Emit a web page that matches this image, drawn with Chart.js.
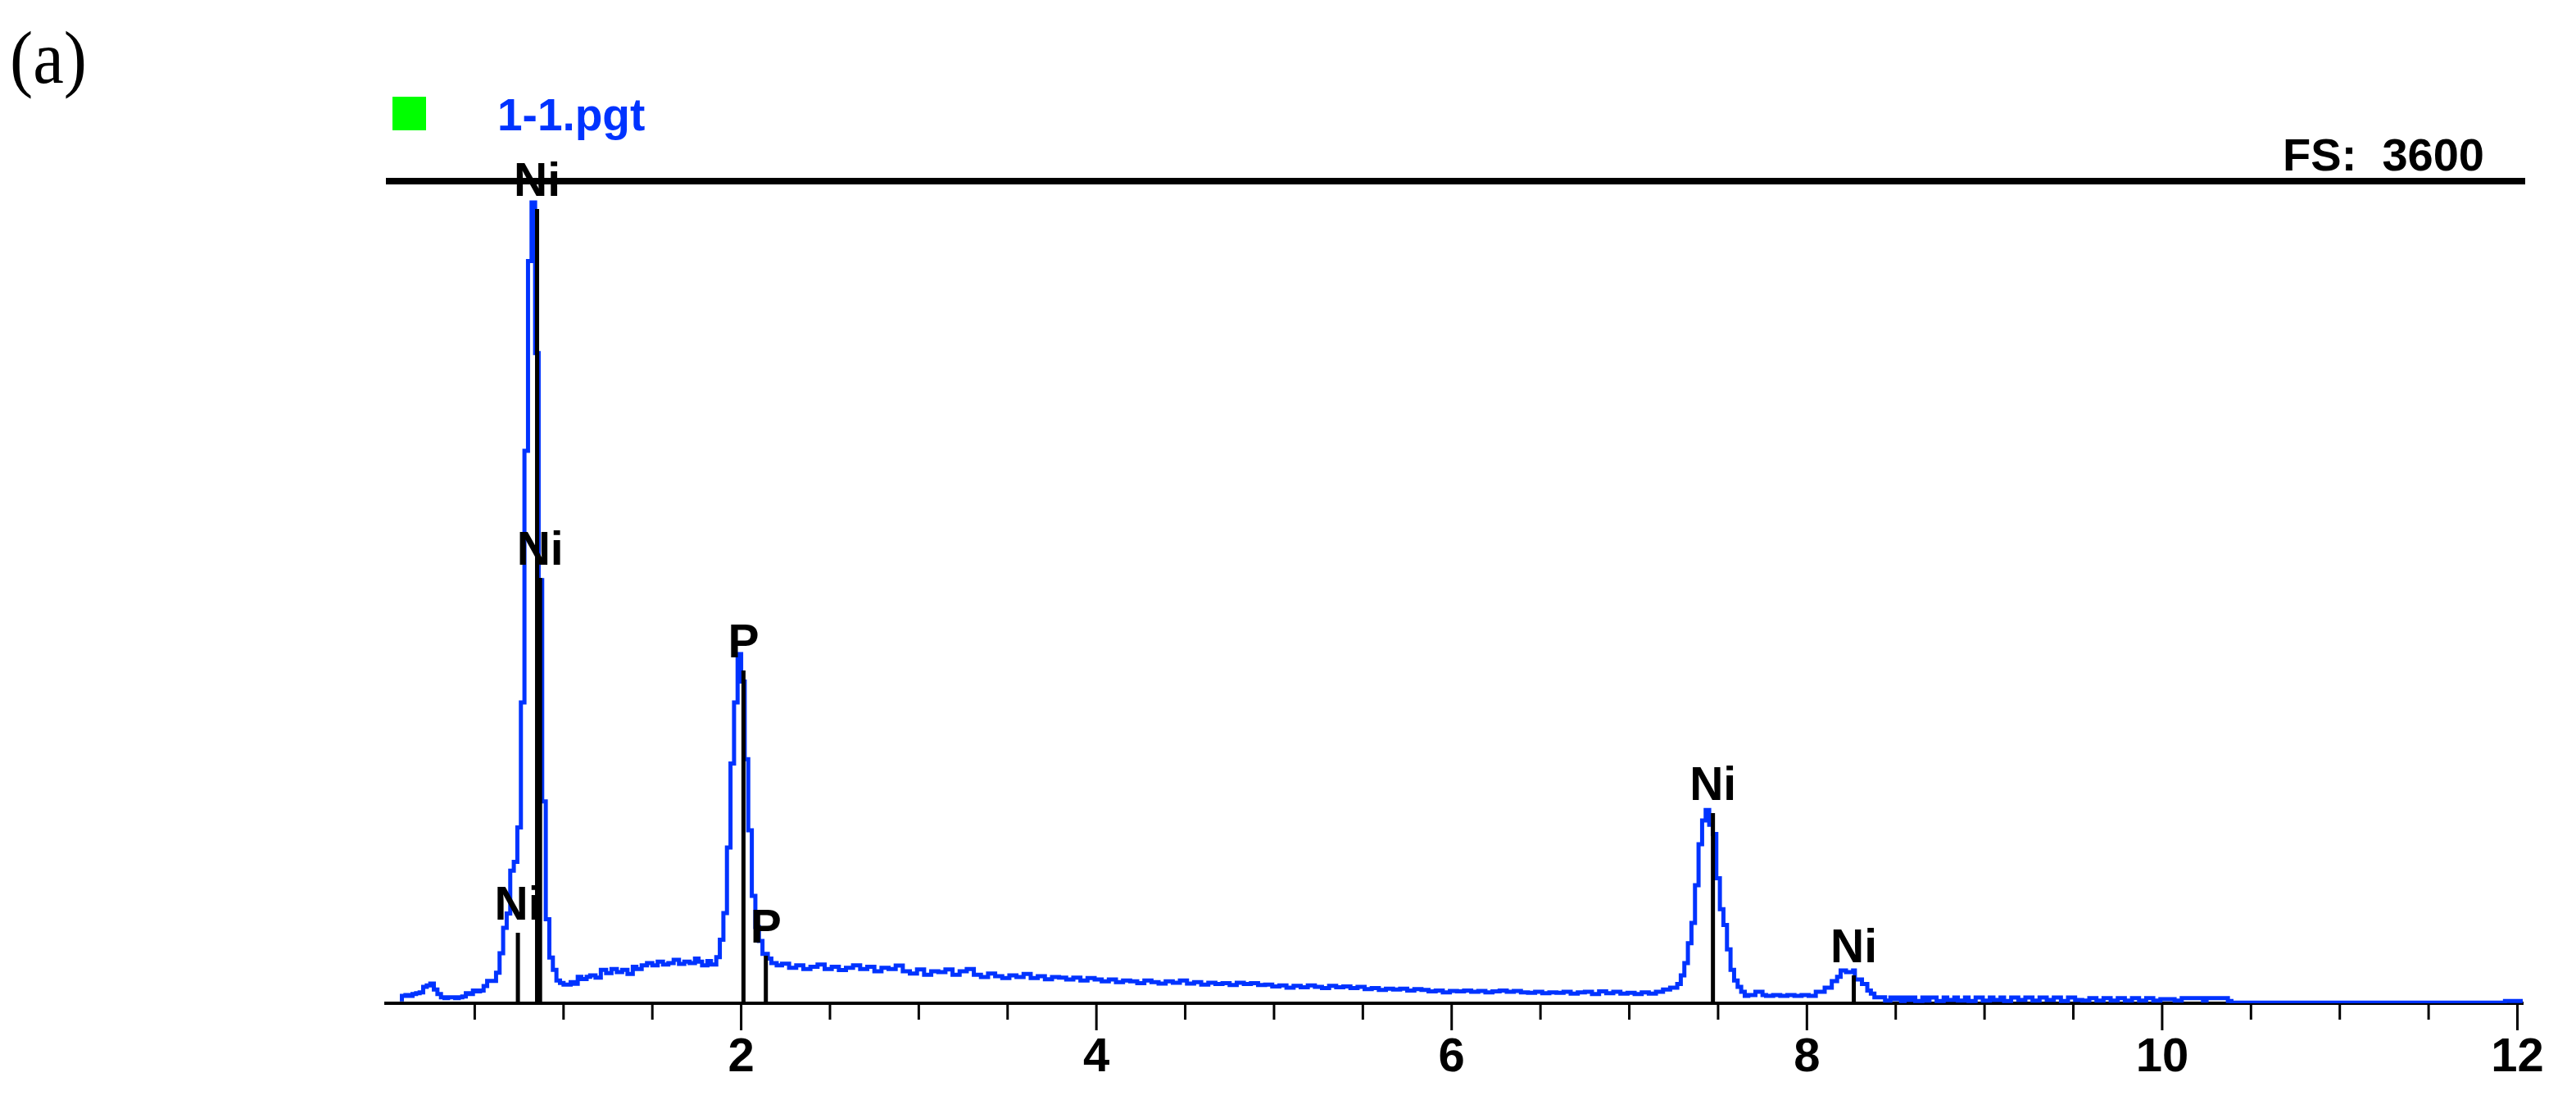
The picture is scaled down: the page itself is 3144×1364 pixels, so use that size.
<!DOCTYPE html>
<html>
<head>
<meta charset="utf-8">
<script src="https://cdn.jsdelivr.net/npm/chart.js@4/dist/chart.umd.min.js"></script>
<style>
  body { margin: 0; background: #fff; }
  #wrap { width: 3144px; height: 1364px; position: relative; }
</style>
</head>
<body>
<div id="wrap"><canvas id="spectrum"></canvas></div>
<script>
// EDS spectrum 1-1.pgt, channel start energy (keV) and counts
const energyKeV = [
  0.09, 0.11, 0.13, 0.15, 0.17, 0.19, 0.21, 0.23, 0.25, 0.27, 0.29, 0.31, 0.33, 0.35, 0.37, 0.39,
  0.41, 0.43, 0.45, 0.47, 0.49, 0.51, 0.53, 0.55, 0.57, 0.62, 0.64, 0.66, 0.68, 0.70, 0.72, 0.74,
  0.76, 0.78, 0.80, 0.82, 0.84, 0.86, 0.88, 0.90, 0.92, 0.94, 0.96, 0.98, 1.00, 1.04, 1.06, 1.08,
  1.10, 1.13, 1.15, 1.18, 1.21, 1.24, 1.27, 1.30, 1.33, 1.36, 1.39, 1.41, 1.44, 1.47, 1.50, 1.53,
  1.56, 1.59, 1.62, 1.65, 1.68, 1.71, 1.74, 1.76, 1.78, 1.81, 1.83, 1.86, 1.88, 1.90, 1.92, 1.94,
  1.96, 1.98, 2.00, 2.02, 2.04, 2.06, 2.08, 2.10, 2.12, 2.15, 2.17, 2.20, 2.23, 2.27, 2.31, 2.35,
  2.39, 2.43, 2.47, 2.51, 2.55, 2.59, 2.63, 2.67, 2.71, 2.75, 2.79, 2.83, 2.87, 2.91, 2.95, 2.99,
  3.03, 3.07, 3.11, 3.15, 3.19, 3.23, 3.27, 3.31, 3.35, 3.39, 3.43, 3.47, 3.51, 3.55, 3.59, 3.63,
  3.67, 3.71, 3.75, 3.79, 3.83, 3.87, 3.91, 3.95, 3.99, 4.03, 4.07, 4.11, 4.15, 4.19, 4.23, 4.27,
  4.31, 4.35, 4.39, 4.43, 4.47, 4.51, 4.55, 4.59, 4.63, 4.67, 4.71, 4.75, 4.79, 4.83, 4.87, 4.91,
  4.95, 4.99, 5.03, 5.07, 5.11, 5.15, 5.19, 5.23, 5.27, 5.31, 5.35, 5.39, 5.43, 5.47, 5.51, 5.55,
  5.59, 5.63, 5.67, 5.71, 5.75, 5.79, 5.83, 5.87, 5.91, 5.95, 5.99, 6.03, 6.07, 6.11, 6.15, 6.19,
  6.23, 6.27, 6.31, 6.35, 6.39, 6.43, 6.47, 6.51, 6.55, 6.59, 6.63, 6.67, 6.71, 6.75, 6.79, 6.83,
  6.87, 6.91, 6.95, 6.99, 7.03, 7.07, 7.11, 7.15, 7.19, 7.23, 7.27, 7.29, 7.31, 7.33, 7.35, 7.37,
  7.39, 7.41, 7.43, 7.45, 7.47, 7.49, 7.51, 7.53, 7.55, 7.57, 7.59, 7.61, 7.63, 7.65, 7.67, 7.71,
  7.75, 7.77, 7.81, 7.85, 7.89, 7.93, 7.97, 8.01, 8.05, 8.10, 8.14, 8.17, 8.19, 8.22, 8.26, 8.27,
  8.31, 8.34, 8.36, 8.38, 8.44, 8.47, 8.49, 8.51, 8.53, 8.55, 8.57, 8.59, 8.61, 8.65, 8.67, 8.69,
  8.73, 8.77, 8.79, 8.83, 8.85, 8.89, 8.91, 8.95, 8.99, 9.03, 9.05, 9.09, 9.11, 9.15, 9.19, 9.23,
  9.27, 9.31, 9.35, 9.39, 9.43, 9.47, 9.51, 9.55, 9.59, 9.63, 9.67, 9.71, 9.75, 9.79, 9.83, 9.87,
  9.91, 9.95, 9.99, 10.07, 10.11, 10.23, 10.25, 10.37, 10.39, 11.93, 11.95, 12.03
];
const counts = [
  8, 32, 36, 32, 40, 44, 48, 72, 78, 86, 60, 40, 26, 22, 26, 26,
  22, 26, 30, 44, 40, 56, 52, 56, 75, 98, 134, 219, 330, 393, 581, 619,
  770, 1317, 2419, 3250, 3507, 2847, 1853, 884, 368, 200, 146, 100, 89, 82, 92, 85,
  116, 106, 116, 122, 112, 146, 132, 150, 136, 146, 128, 160, 150, 166, 176, 166,
  182, 170, 176, 190, 172, 182, 176, 196, 182, 166, 185, 170, 202, 278, 395, 682,
  1050, 1317, 1529, 1409, 1069, 757, 470, 334, 273, 216, 196, 176, 166, 173, 155, 166,
  150, 160, 170, 150, 160, 145, 155, 166, 150, 160, 140, 155, 150, 165, 140, 130,
  148, 125, 140, 136, 148, 125, 140, 150, 125, 115, 130, 118, 110, 122, 115, 128,
  110, 118, 105, 115, 112, 104, 112, 100, 110, 104, 96, 104, 92, 100, 96, 88,
  100, 92, 86, 96, 90, 100, 86, 92, 82, 90, 84, 88, 80, 90, 84, 88,
  80, 82, 74, 78, 68, 76, 70, 78, 72, 66, 76, 70, 74, 66, 72, 62,
  66, 58, 64, 60, 64, 56, 62, 58, 52, 56, 48, 54, 52, 56, 50, 54,
  48, 52, 56, 50, 54, 48, 46, 50, 44, 48, 46, 50, 42, 48, 50, 40,
  52, 44, 50, 42, 46, 40, 48, 42, 50, 60, 68, 84, 122, 176, 263, 352,
  517, 696, 800, 846, 782, 741, 547, 412, 343, 236, 146, 100, 72, 50, 32, 36,
  50, 36, 32, 36, 32, 36, 32, 36, 32, 50, 68, 97, 116, 144, 136, 144,
  104, 84, 56, 42, 26, 12, 25, 18, 25, 10, 25, 14, 25, 10, 25, 12,
  25, 10, 25, 14, 25, 12, 25, 10, 25, 12, 25, 14, 25, 10, 25, 14,
  25, 12, 25, 14, 25, 10, 25, 14, 12, 22, 12, 22, 12, 22, 12, 22,
  12, 22, 12, 18, 12, 22, 12, 22, 10, 3, 10, 10
];

// KLM markers
const markerKeV = [0.743, 0.851, 0.868, 2.013, 2.139, 7.471, 8.264];
const markerCounts = [309, 3478, 1863, 1457, 208, 833, 122];
const markerNames = ['Ni', 'Ni', 'Ni', 'P', 'P', 'Ni', 'Ni'];

const xTickLabels = ['2', '4', '6', '8', '10', '12'];
const fullScale = 3600;
const maxKeV = 12.03;
const seriesName = '1-1.pgt';
const panelTag = '(a)';

const blue = '#0033ff';
const sansFont = '"Liberation Sans", Arial, sans-serif';

let markerPoints = [];
markerKeV.forEach((e, i) => {
    markerPoints.push({x: e, y: 0}, {x: e, y: markerCounts[i]}, {x: e, y: null});
});

const decorations = {
    id: 'decorations',
    afterDatasetsDraw(chart) {
        const {ctx, scales: {x, y}} = chart;
        ctx.save();
        ctx.fillStyle = '#000';
        ctx.font = 'bold 57px ' + sansFont;
        ctx.textAlign = 'center';
        ctx.textBaseline = 'alphabetic';
        markerKeV.forEach((e, i) => {
            ctx.fillText(markerNames[i], x.getPixelForValue(e), y.getPixelForValue(markerCounts[i]) - 16);
        });
        ctx.restore();
    },
    afterDraw(chart) {
        const {ctx, chartArea, scales: {x, y}} = chart;
        ctx.save();

        // full scale line
        const top = y.getPixelForValue(fullScale);
        ctx.strokeStyle = '#000';
        ctx.lineWidth = 8;
        ctx.beginPath();
        ctx.moveTo(chartArea.left, top);
        ctx.lineTo(chartArea.right + 3, top);
        ctx.stroke();

        // tick marks, long ones at labelled values
        ctx.lineWidth = 3;
        x.ticks.forEach(t => {
            if (t.value <= 0) return;
            const px = x.getPixelForValue(t.value);
            const len = t.value % 2 === 0 ? 33 : 20;
            ctx.beginPath();
            ctx.moveTo(px, chartArea.bottom);
            ctx.lineTo(px, chartArea.bottom + len);
            ctx.stroke();
        });

        ctx.fillStyle = '#000';
        ctx.font = 'bold 56px ' + sansFont;
        ctx.textAlign = 'right';
        ctx.fillText('FS:  ' + fullScale, chartArea.right - 47, top - 13);

        ctx.fillStyle = '#00ff00';
        ctx.fillRect(chartArea.left + 8, 118, 41, 41);
        ctx.fillStyle = blue;
        ctx.textAlign = 'left';
        ctx.font = 'bold 55px ' + sansFont;
        ctx.fillText(seriesName, chartArea.left + 136, 159);

        // panel tag, narrow serif
        ctx.fillStyle = '#000';
        ctx.font = '92px "Liberation Serif", "Times New Roman", serif';
        ctx.translate(12, 101);
        ctx.scale(0.92, 1);
        ctx.fillText(panelTag, 0, 0);
        ctx.restore();
    }
};

const spectrumChart = new Chart(document.getElementById('spectrum'), {
    type: 'line',
    data: {
        datasets: [
            {
                label: 'markers',
                data: markerPoints,
                borderColor: '#000',
                borderWidth: 5,
                borderCapStyle: 'butt',
                pointRadius: 0,
                spanGaps: false,
                order: 0
            },
            {
                label: seriesName,
                data: energyKeV.map((e, i) => ({x: e, y: counts[i]})),
                borderColor: blue,
                borderWidth: 5,
                borderJoinStyle: 'miter',
                stepped: 'after',
                pointRadius: 0,
                order: 1
            }
        ]
    },
    options: {
        responsive: true,
        maintainAspectRatio: false,
        animation: false,
        layout: {padding: {left: 471, right: 65, top: 221, bottom: 0}},
        plugins: {
            legend: {display: false},
            tooltip: {enabled: false}
        },
        scales: {
            x: {
                type: 'linear',
                min: 0,
                max: maxKeV,
                afterFit(scale) { scale.height = 140; },
                grid: {display: true, drawOnChartArea: false, drawTicks: false},
                border: {display: true, color: '#000', width: 4},
                ticks: {
                    stepSize: 0.5,
                    includeBounds: false,
                    autoSkip: false,
                    maxRotation: 0,
                    padding: 32,
                    color: '#000',
                    font: {family: sansFont, size: 58, weight: 'bold'},
                    callback: (v) => xTickLabels.includes(String(v)) ? String(v) : ''
                }
            },
            y: {
                display: false,
                min: 0,
                max: fullScale
            }
        }
    },
    plugins: [decorations]
});
</script>
</body>
</html>
